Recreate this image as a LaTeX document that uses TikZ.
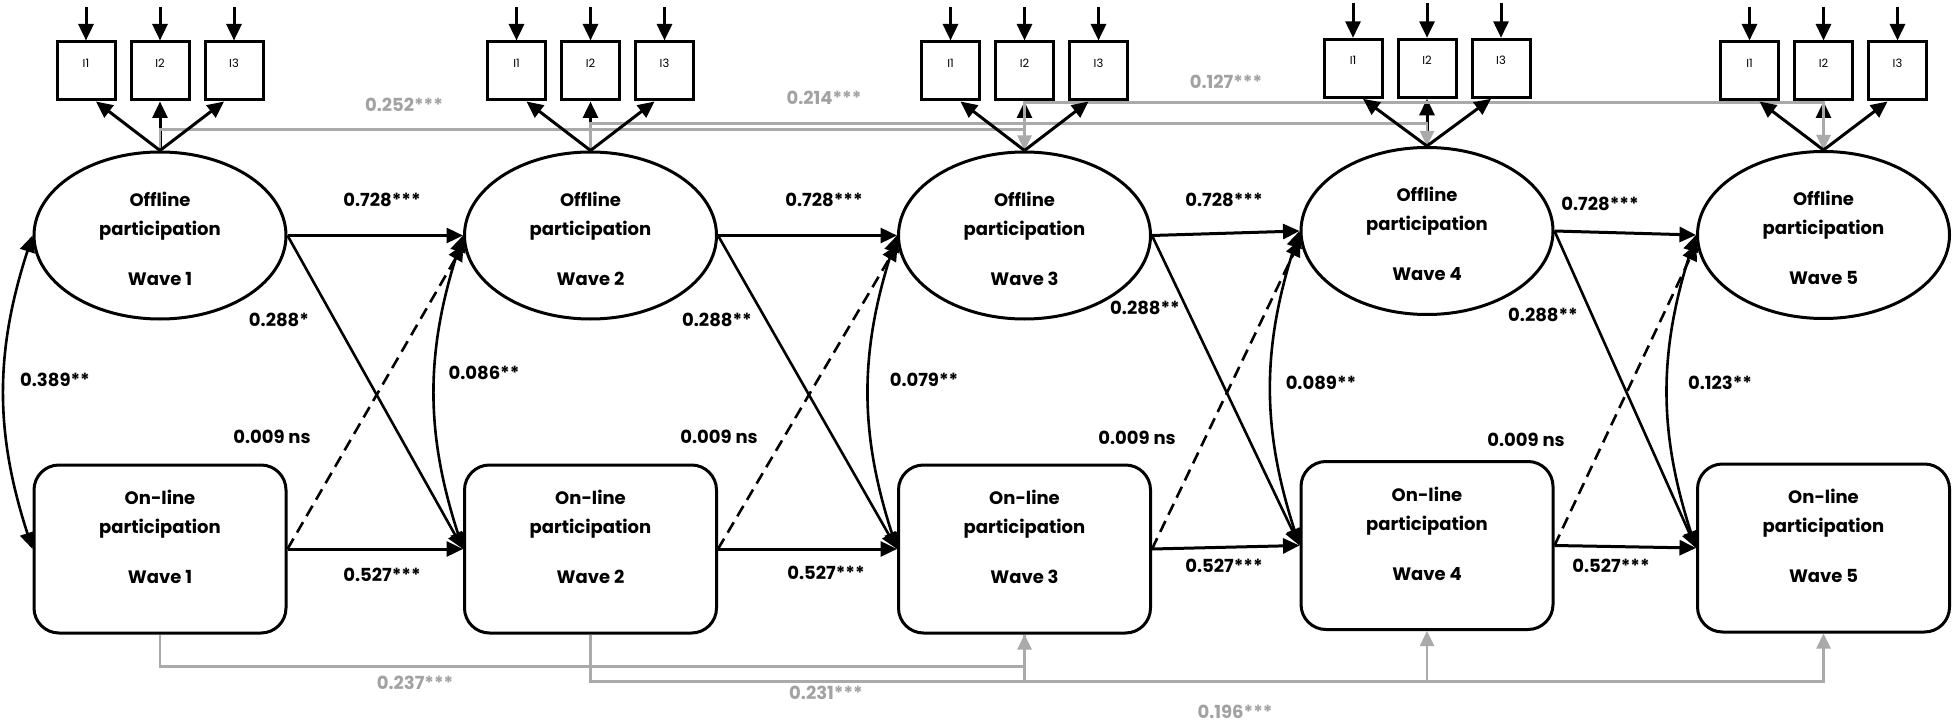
\documentclass[tikz,border=0pt]{standalone}
\usepackage{fontspec}
\setmainfont{Poppins}
\usetikzlibrary{arrows.meta,calc,shapes.geometric}
\definecolor{lagline}{RGB}{170,170,170}
\definecolor{lagtext}{RGB}{162,162,162}
\begin{document}
\begin{tikzpicture}[x=1pt,y=1pt,
  >={Triangle[length=16.5pt,width=15pt]},
  latent/.style={ellipse, draw, line width=3pt, minimum width=252pt, minimum height=167pt, inner sep=0pt},
  observed/.style={rectangle, draw, line width=3pt, rounded corners=25pt, minimum width=252pt, minimum height=168pt, inner sep=0pt},
  item/.style={rectangle, draw, line width=3pt, minimum width=58pt, minimum height=58pt, inner sep=0pt},
  itemlabel/.style={inner sep=0pt, font=\fontsize{11.5}{13}\selectfont},
  nodetext/.style={align=center, inner sep=0pt, font=\bfseries\fontsize{18}{29}\selectfont},
  coef/.style={inner sep=0pt, font=\bfseries\fontsize{18}{22}\selectfont},
  graycoef/.style={coef, text=lagtext},
  reg/.style={line width=3pt, ->},
  crosslag/.style={line width=2.6pt, ->},
  nsdash/.style={line width=2.6pt, dash pattern=on 12pt off 7pt, ->},
  corr/.style={line width=2.6pt, <->},
  lagtwo/.style={draw=lagline, line width=2.6pt, ->, >={Triangle[length=15pt,width=14pt]}},
]
\fill[white] (0,0) rectangle (1954,-722);
\useasboundingbox (0,0) rectangle (1954,-722);

% latent and observed variables per wave, with three indicators each
\foreach \i/\cx/\oy/\ny/\by/\ty in {1/160/235.5/549/71/7, 2/590.5/235.5/549/71/7, 3/1024.5/235.5/549/71/7, 4/1427/231/545.5/68.3/3, 5/1823.5/235/548/71/7}{
  \node[latent] (O\i) at (\cx,-\oy) {};
  \node[nodetext] (O\i t) at (\cx,-\oy-3) {Offline\\participation\\[21pt]Wave \i};
  \node[observed] (N\i) at (\cx,-\ny) {};
  \node[nodetext] (N\i t) at (\cx,-\ny+12) {On-line\\participation\\[21pt]Wave \i};
  \foreach \j/\dx in {1/-74,2/0,3/74}{
    \node[item] (I\i\j) at (\cx+\dx,-\by) {};
    \node[itemlabel] (L\i\j) at (\cx+\dx,-\by+8) {I\j};
    \coordinate (E\i\j) at (\cx+\dx,-\ty);
    \draw[reg] (E\i\j) -- (I\i\j.north);
  }
  \draw[reg] (O\i.north) -- (I\i2.south);
}

% lag-2 stability paths (grey)
\draw[lagtwo] (O1.north) -- ++(0,21) -| (O3.north);
\draw[lagtwo] (O2.north) -- ++(0,27) -| (O4.north);
\draw[lagtwo] (O3.north) -- ++(0,48) -| (O5.north);
\draw[lagtwo] (N1.south) -- ++(0,-32) -| (N3.south);
\draw[lagtwo] (N2.south) -- ++(0,-47) -| (N4.south);
\draw[lagtwo] (N3.south) -- ++(0,-47) -| (N5.south);

% outer loadings and within-wave correlations
\foreach \i in {1,...,5}{
  \draw[reg] (O\i.north) -- ([xshift=10pt]I\i1.south);
  \draw[reg] (O\i.north) -- ([xshift=-10pt]I\i3.south);
  \draw[corr] (O\i.west) to[bend right=18] (N\i.west);
}

% autoregressive and cross-lagged paths
\foreach \i/\j in {1/2,2/3,3/4,4/5}{
  \draw[reg] (O\i.east) -- (O\j.west);
  \draw[reg] (N\i.east) -- (N\j.west);
  \draw[crosslag] (O\i.east) -- (N\j.west);
  \draw[nsdash] (N\i.east) -- (O\j.184);
}

% coefficients
\node[coef] (a12) at (382,-200) {0.728***};
\node[coef] (a23) at (824,-200) {0.728***};
\node[coef] (a34) at (1224,-200) {0.728***};
\node[coef] (a45) at (1600,-204) {0.728***};
\node[coef] (b12) at (382,-575) {0.527***};
\node[coef] (b23) at (826,-573) {0.527***};
\node[coef] (b34) at (1224,-566) {0.527***};
\node[coef] (b45) at (1611,-566) {0.527***};
\node[coef] (c12) at (279,-320) {0.288*};
\node[coef] (c23) at (717,-320) {0.288**};
\node[coef] (c34) at (1145,-308) {0.288**};
\node[coef] (c45) at (1543,-315) {0.288**};
\node[coef] (d12) at (272,-437) {0.009 ns};
\node[coef] (d23) at (719,-437) {0.009 ns};
\node[coef] (d34) at (1137,-438) {0.009 ns};
\node[coef] (d45) at (1526,-440) {0.009 ns};
\node[coef] (r1) at (55,-380) {0.389**};
\node[coef] (r2) at (484,-373) {0.086**};
\node[coef] (r3) at (924,-380) {0.079**};
\node[coef] (r4) at (1321,-383) {0.089**};
\node[coef] (r5) at (1720,-383) {0.123**};
\node[graycoef] (g13) at (404,-105) {0.252***};
\node[graycoef] (g24) at (824,-98) {0.214***};
\node[graycoef] (g35) at (1226,-82) {0.127***};
\node[graycoef] (h13) at (415,-683) {0.237***};
\node[graycoef] (h24) at (826,-693) {0.231***};
\node[graycoef] (h35) at (1235,-712) {0.196***};
\end{tikzpicture}
\end{document}
